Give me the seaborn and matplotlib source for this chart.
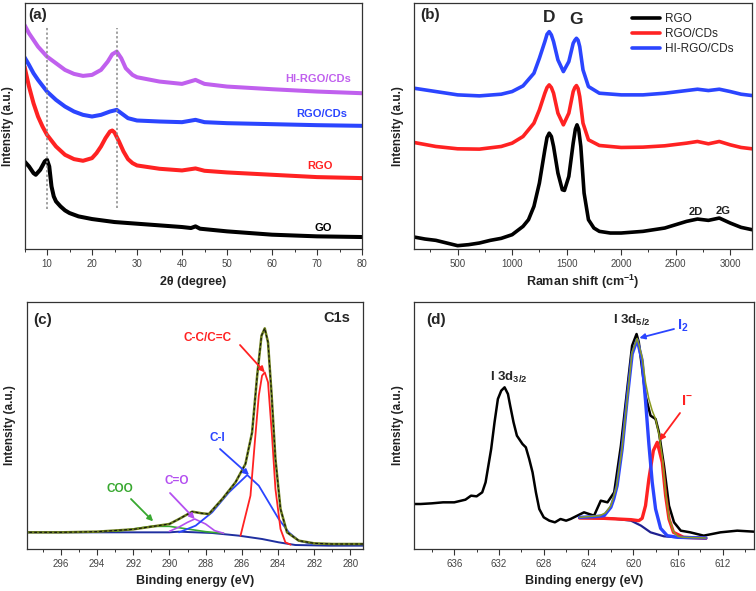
import matplotlib
matplotlib.use("Agg")
import matplotlib.pyplot as plt
from matplotlib.ticker import MultipleLocator
import seaborn as sns

# ---------------- data ----------------
# (a) XRD
a_go_x = [5, 6, 7, 7.5, 8.5, 9.5, 10, 10.5, 11, 11.5, 12, 13, 14, 15, 17, 20, 25, 30, 35, 40, 42, 43, 44, 50, 55, 60, 70, 80]
a_go_y = [263, 248, 228, 223, 238, 263, 268, 248, 188, 158, 143, 128, 116, 108, 98, 90, 81, 76, 71, 66, 63, 68, 61, 53, 48, 43, 38, 36]
a_rgo_x = [5, 6, 7, 8, 9, 10, 12, 14, 16, 18, 20, 21, 22, 23, 24, 24.5, 25, 26, 27, 28, 29, 30, 35, 40, 43, 45, 50, 60, 70, 80]
a_rgo_y = [548, 488, 438, 398, 368, 343, 308, 283, 270, 265, 273, 288, 308, 333, 353, 356, 350, 323, 293, 270, 258, 251, 241, 236, 242, 235, 230, 223, 216, 213]
a_rgocd_x = [5, 6, 7, 8, 10, 12, 14, 16, 18, 20, 22, 24, 25.5, 27, 28, 30, 35, 40, 43, 45, 50, 60, 70, 80]
a_rgocd_y = [576, 553, 528, 508, 473, 448, 428, 413, 403, 398, 403, 413, 418, 403, 393, 386, 383, 381, 388, 381, 378, 375, 372, 370]
a_hi_x = [5, 6, 7, 8, 10, 12, 14, 16, 18, 20, 22, 23.5, 24.5, 25.5, 26.5, 27.5, 29, 30, 35, 40, 43, 45, 50, 60, 70, 80]
a_hi_y = [673, 648, 628, 608, 578, 558, 538, 526, 520, 523, 538, 563, 585, 593, 573, 543, 523, 516, 503, 496, 508, 496, 488, 480, 473, 468]
a_ref_lines = [10, 25.5]
a_names = ["HI-RGO/CDs", "RGO/CDs", "RGO", "GO"]

# (b) Raman
b_rgo_x = [100, 200, 300, 400, 500, 600, 700, 800, 900, 1000, 1100, 1150, 1200, 1250, 1300, 1320, 1340, 1360, 1380,
           1420, 1460, 1480, 1520, 1560, 1580, 1595, 1610, 1630, 1660, 1700, 1750, 1800, 1900, 2000, 2200, 2400,
           2500, 2600, 2700, 2800, 2900, 3000, 3100, 3200]
b_rgo_y = [36, 30, 26, 18, 10, 13, 18, 26, 32, 43, 68, 88, 128, 198, 298, 335, 348, 338, 308,
           228, 178, 176, 218, 318, 360, 373, 360, 308, 168, 88, 63, 53, 48, 48, 53, 63,
           73, 83, 90, 86, 93, 78, 65, 58]
b_x = [100, 300, 500, 700, 900, 1000, 1100, 1200, 1250, 1300, 1320, 1340, 1360, 1380, 1420, 1470, 1520, 1560,
       1575, 1590, 1605, 1620, 1650, 1700, 1800, 2000, 2200, 2400, 2600, 2700, 2800, 2900, 3000, 3100, 3200]
b_rgocd_y = [320, 308, 301, 300, 308, 318, 338, 378, 418, 468, 485, 493, 485, 468, 408, 373, 408, 473,
             485, 491, 482, 458, 378, 328, 311, 305, 306, 310, 318, 323, 316, 323, 313, 305, 301]
b_hi_y = [483, 473, 463, 460, 465, 473, 490, 528, 573, 623, 645, 653, 643, 623, 568, 533, 563, 618,
          627, 633, 627, 608, 538, 488, 468, 463, 463, 468, 476, 480, 476, 480, 473, 465, 461]
b_names = ["RGO", "RGO/CDs", "HI-RGO/CDs"]

# (c) C1s XPS
c_env_x = [297.9, 296, 294, 292, 291, 290, 289.47, 288.74, 288.2, 287.82, 287.08, 286.35, 285.8, 285.43, 285.15,
           284.91, 284.73, 284.55, 284.36, 284.14, 283.86, 283.5, 282.85, 282, 281, 280, 279.3]
c_env_y = [50, 50, 52, 59, 67, 75, 90, 112, 107, 105, 150, 200, 255, 350, 520,
           640, 662, 620, 470, 270, 120, 50, 25, 17, 15, 15, 15]
c_cc_x = [286.07, 285.52, 285.28, 285.06, 284.88, 284.73, 284.55, 284.33, 284.14, 283.86, 283.59, 283.3]
c_cc_y = [40, 160, 320, 460, 520, 530, 500, 340, 180, 60, 20, 13]
c_ci_x = [289.47, 288.55, 287.64, 286.71, 285.7, 285.06, 284.51, 283.96, 283.4, 282.85, 282.12]
c_ci_y = [50, 70, 110, 170, 222, 190, 140, 90, 50, 25, 15]
c_co_x = [290.0, 289.5, 289.0, 288.6, 288.0, 287.5, 287.0]
c_co_y = [53, 65, 80, 90, 75, 55, 47]
c_coo_x = [293, 292, 291, 290, 289, 288, 287]
c_coo_y = [53, 60, 68, 68, 60, 52, 47]
c_bg_x = [297.9, 292, 290, 289.47, 287.64, 286.16, 284.88, 283.96, 283.04, 281.2, 279.3]
c_bg_y = [50, 50, 50, 52, 48, 40, 30, 20, 12, 10, 10]

# (d) I3d XPS
d_x = [639.6, 639, 638, 637, 636, 635, 634.5, 634, 633.5, 633.2, 633, 632.7, 632.4, 632.1, 631.8, 631.5, 631.2,
       631, 630.7, 630.4, 630.1, 629.9, 629.6, 629.3, 629, 628.7, 628.4, 628, 627.5, 627, 626.5, 626, 625.6,
       624.4, 623.5, 622.9, 622.3, 621.7, 621.1, 620.5, 620.1, 619.7, 619.5, 619.2, 618.9, 618.45, 618.0,
       617.7, 617.25, 616.8, 616.35, 615.75, 614.9, 613.7, 612.2, 610.7, 609.2]
d_y = [135, 135, 137, 140, 140, 148, 160, 158, 170, 200, 240, 300, 380, 450, 475, 485, 465,
       430, 380, 340, 325, 315, 305, 270, 230, 170, 120, 95, 85, 80, 90, 85, 90,
       110, 100, 145, 140, 170, 310, 490, 610, 645, 620, 540, 460, 400, 390,
       350, 250, 130, 80, 55, 50, 40, 50, 55, 52]
d_fit_x = [624.8, 623.0, 622.5, 622.0, 621.5, 621.0, 620.5, 620.1, 619.65, 619.2, 618.9, 618.6, 618.3, 618.0,
           617.7, 617.4, 617.1, 616.8, 616.4, 616.0, 615.5, 613.5]
d_fit_y = [95, 100, 108, 130, 185, 300, 460, 590, 632, 575, 500, 450, 415, 390,
           345, 277, 168, 94, 52, 38, 35, 33]
d_i2_x = [624.8, 623.5, 622.6, 622.0, 621.74, 621.44, 620.99, 620.54, 620.09, 619.65, 619.2, 618.9, 618.6,
          618.3, 618.0, 617.55, 616.96, 616.0, 613.5]
d_i2_y = [95, 97, 100, 125, 150, 190, 300, 450, 585, 628, 565, 445, 315, 200, 120, 62, 40, 35, 33]
d_im_x = [624.8, 622.6, 620.2, 619.5, 619.2, 618.9, 618.6, 618.2, 617.85, 617.4, 617.1, 616.8, 616.4, 615.5, 613.5]
d_im_y = [93, 92, 88, 85, 92, 130, 210, 295, 320, 260, 160, 90, 50, 35, 32]
d_bg_x = [624.8, 622.0, 620.2, 619.3, 618.45, 617.25, 616.05, 613.5]
d_bg_y = [93, 92, 85, 70, 50, 38, 35, 33]

# ---------------- style ----------------
sns.set_style("white")
plt.rcParams["font.family"] = ["Liberation Sans", "DejaVu Sans"]
plt.rcParams["mathtext.fontset"] = "custom"
plt.rcParams["mathtext.rm"] = "Liberation Sans"
plt.rcParams["mathtext.bf"] = "Liberation Sans:bold"
plt.rcParams["mathtext.it"] = "Liberation Sans:italic"

W, H = 756, 591
fig = plt.figure(figsize=(W / 100, H / 100), dpi=100)


def add_ax(l, r, t, b):
    return fig.add_axes([l / W, 1 - b / H, (r - l) / W, (b - t) / H])


def ftext(x, y, s, **kw):
    kw.setdefault("ha", "center")
    kw.setdefault("va", "center")
    fig.text(x / W, 1 - y / H, s, **kw)


def style(ax, major, minor, xlabel, ylab_x, xlab_y):
    for sp in ax.spines.values():
        sp.set_color("#333333")
        sp.set_linewidth(0.9)
    ax.set_yticks([])
    ax.xaxis.set_major_locator(MultipleLocator(major))
    ax.xaxis.set_minor_locator(MultipleLocator(minor))
    ax.tick_params(axis="x", which="major", direction="out", length=4, width=0.8,
                   labelsize=7, pad=3, labelcolor="#444444", color="#333333", bottom=True)
    ax.tick_params(axis="x", which="minor", direction="out", length=2, width=0.7,
                   color="#333333", bottom=True)
    ax.set_xlabel(xlabel, fontsize=9, fontweight="bold", color="#222222")
    ax.set_ylabel("Intensity (a.u.)", fontsize=8.5, fontweight="bold", color="#222222")
    ax.xaxis.label.set_va("center")
    ax.yaxis.label.set_va("center")
    ax.yaxis.set_label_coords(ylab_x, 0.5)
    ax.xaxis.set_label_coords(0.5, xlab_y)


C_PURPLE = "#c060ee"
C_BLUE = "#2b45ff"
C_RED = "#ff2222"
C_BLACK = "#000000"

# ---------------- (a) ----------------
axa = add_ax(24.5, 362, 3, 249)
for xs, ys, c in [(a_go_x, a_go_y, C_BLACK), (a_rgo_x, a_rgo_y, C_RED),
                  (a_rgocd_x, a_rgocd_y, C_BLUE), (a_hi_x, a_hi_y, C_PURPLE)]:
    sns.lineplot(x=xs, y=ys, ax=axa, color=c, lw=2.9, legend=False)
axa.vlines(a_ref_lines[0], 120, 668, colors="#888888", linestyles=(0, (1.5, 1.5)), lw=1.1)
axa.vlines(a_ref_lines[1], 123, 665, colors="#888888", linestyles=(0, (1.5, 1.5)), lw=1.1)
axa.set_xlim(5, 80)
axa.set_ylim(0, 739)
style(axa, 10, 5, "2θ (degree)", -0.049, -0.134)
ftext(38, 15, "(a)", fontsize=11, fontweight="bold")
ftext(318, 79, a_names[0], fontsize=8, fontweight="bold", color=C_PURPLE)
ftext(322, 114, a_names[1], fontsize=8, fontweight="bold", color=C_BLUE)
ftext(320, 166, a_names[2], fontsize=8, fontweight="bold", color=C_RED)
ftext(323, 228, a_names[3], fontsize=8, fontweight="bold", color=C_BLACK)

# ---------------- (b) ----------------
axb = add_ax(414, 752, 3, 249)
sns.lineplot(x=b_rgo_x, y=b_rgo_y, ax=axb, color=C_BLACK, lw=2.6, label=b_names[0])
sns.lineplot(x=b_x, y=b_rgocd_y, ax=axb, color=C_RED, lw=2.6, label=b_names[1])
sns.lineplot(x=b_x, y=b_hi_y, ax=axb, color=C_BLUE, lw=2.6, label=b_names[2])
axb.set_xlim(100, 3200)
axb.set_ylim(0, 739)
style(axb, 500, 250, r"Raman shift (cm$^{\mathbf{-1}}$)", -0.048, -0.134)
axb.legend(loc="upper left", bbox_to_anchor=(0.645, 0.958), frameon=False, fontsize=8.5,
           handlelength=2.4, handletextpad=0.4, labelspacing=0.25, borderpad=0, borderaxespad=0)
ftext(430, 15, "(b)", fontsize=11, fontweight="bold")
ftext(549, 18, "D", fontsize=12.5, fontweight="bold")
ftext(576, 20, "G", fontsize=12.5, fontweight="bold")
ftext(696, 212, "2D", fontsize=8, fontweight="bold", color="#222222")
ftext(723, 211, "2G", fontsize=8, fontweight="bold", color="#222222")

# ---------------- (c) ----------------
axc = add_ax(26.5, 363, 302, 549)
sns.lineplot(x=c_bg_x, y=c_bg_y, ax=axc, color="#1f2fa0", lw=1.4, legend=False)
sns.lineplot(x=c_coo_x, y=c_coo_y, ax=axc, color="#38a830", lw=1.2, legend=False)
sns.lineplot(x=c_co_x, y=c_co_y, ax=axc, color="#b450f0", lw=1.2, legend=False)
sns.lineplot(x=c_ci_x, y=c_ci_y, ax=axc, color=C_BLUE, lw=1.3, legend=False)
sns.lineplot(x=c_cc_x, y=c_cc_y, ax=axc, color=C_RED, lw=1.3, legend=False)
sns.lineplot(x=c_env_x, y=c_env_y, ax=axc, color="#6b7d1a", lw=1.8, legend=False)
sns.lineplot(x=c_env_x, y=c_env_y, ax=axc, color="#111111", lw=0.8, linestyle=(0, (2.5, 2)), legend=False)
axc.set_xlim(297.9, 279.3)
axc.set_ylim(0, 741)
style(axc, 2, 1, "Binding energy (eV)", -0.049, -0.13)
ftext(43, 320, "(c)", fontsize=11, fontweight="bold")
ftext(337, 318, "C1s", fontsize=10.5, fontweight="bold")
ftext(208, 338, "C-C/C=C", fontsize=8.5, fontweight="bold", color=C_RED)
ftext(217, 438, "C-I", fontsize=8.5, fontweight="bold", color=C_BLUE)
ftext(177, 481, "C=O", fontsize=8.5, fontweight="bold", color="#b450f0")
ftext(120, 489, "COO", fontsize=8.5, fontweight="bold", color="#38a830")


def arrow(ax, tip, tail, c):
    ax.annotate("", xy=tip, xycoords="data", xytext=(tail[0], H - tail[1]), textcoords="figure pixels",
                arrowprops=dict(arrowstyle="-|>", color=c, lw=1.3, mutation_scale=8, shrinkA=0, shrinkB=0))


arrow(axc, (c_cc_x[5], c_cc_y[5]), (240, 345), C_RED)
arrow(axc, (c_ci_x[4] - 0.1, c_ci_y[4]), (220, 449), C_BLUE)
arrow(axc, (c_co_x[3], c_co_y[3]), (170, 493), "#b450f0")
arrow(axc, (c_coo_x[2] - 0.1, c_coo_y[2] + 15), (131, 499), "#38a830")

# ---------------- (d) ----------------
axd = add_ax(414, 754, 302, 549)
sns.lineplot(x=d_x, y=d_y, ax=axd, color=C_BLACK, lw=1.8, legend=False)
sns.lineplot(x=d_bg_x, y=d_bg_y, ax=axd, color="#1f2090", lw=1.6, legend=False)
sns.lineplot(x=d_im_x, y=d_im_y, ax=axd, color=C_RED, lw=2.4, legend=False)
sns.lineplot(x=d_i2_x, y=d_i2_y, ax=axd, color=C_BLUE, lw=2.4, legend=False)
sns.lineplot(x=d_fit_x, y=d_fit_y, ax=axd, color="#8a9a20", lw=1.1, legend=False)
axd.set_xlim(639.6, 609.2)
axd.set_ylim(0, 741)
style(axd, 4, 2, "Binding energy (eV)", -0.048, -0.13)
ftext(436, 320, "(d)", fontsize=11, fontweight="bold")
ftext(632, 320, r"I 3d$_{\mathbf{5/2}}$", fontsize=9.5, fontweight="bold")
ftext(509, 377, r"I 3d$_{\mathbf{3/2}}$", fontsize=9.5, fontweight="bold")
ftext(683, 326, r"I$_{\mathbf{2}}$", fontsize=10.5, fontweight="bold", color=C_BLUE)
ftext(687, 401, r"I$^{\mathbf{-}}$", fontsize=10.5, fontweight="bold", color=C_RED)
arrow(axd, (d_i2_x[9] - 0.2, d_i2_y[9] + 5), (674, 329), C_BLUE)
arrow(axd, (d_im_x[8] - 0.2, d_im_y[8] + 5), (680, 413), C_RED)

fig.savefig("out.png", dpi=100, facecolor="white")
